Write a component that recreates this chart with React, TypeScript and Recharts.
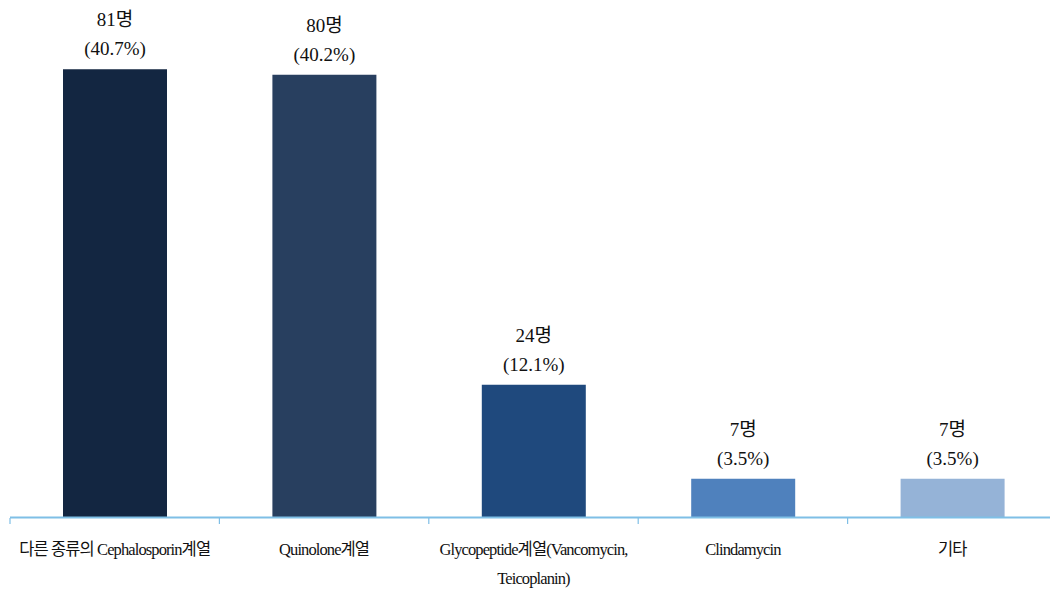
import React from "react";
import { BarChart, Bar, XAxis, YAxis, Cell, LabelList } from "recharts";

const categories = [
    "다른 종류의 Cephalosporin계열",
    "Quinolone계열",
    "Glycopeptide계열(Vancomycin,\nTeicoplanin)",
    "Clindamycin",
    "기타",
];
const counts = [81, 80, 24, 7, 7];
const percents = ["40.7%", "40.2%", "12.1%", "3.5%", "3.5%"];
const barColors = ["#132641", "#283f5f", "#1f497d", "#4f81bd", "#95b3d7"];

const AXIS_COLOR = "#7fbfe6";
const SERIF = "'Liberation Serif', 'Noto Sans CJK KR', serif";

const data = categories.map((name, i) => ({
    name,
    count: counts[i],
    pct: percents[i],
}));

function CategoryTick(props: any) {
    const { x, payload, width, visibleTicksCount } = props;
    const band = width && visibleTicksCount ? width / visibleTicksCount : 209.4;
    const lines = String(payload.value).split("\n");
    const isLast = payload.index === categories.length - 1;
    return (
        <g>
            <line x1={x - band / 2} x2={x - band / 2} y1={518} y2={524} stroke={AXIS_COLOR} strokeWidth={1.2} />
            {isLast && (
                <line x1={x + band / 2} x2={x + band / 2} y1={518} y2={524} stroke={AXIS_COLOR} strokeWidth={1.2} />
            )}
            <text
                x={x}
                y={555}
                textAnchor="middle"
                fontSize={16.5}
                fontFamily={SERIF}
                fill="#111"
                letterSpacing={-0.9}
            >
                {lines.map((line, i) => (
                    <tspan key={i} x={x} dy={i === 0 ? 0 : 29}>
                        {line}
                    </tspan>
                ))}
            </text>
        </g>
    );
}

function ValueLabel(props: any) {
    const { x, y, width, index } = props;
    const cx = x + width / 2;
    return (
        <text textAnchor="middle" fontSize={19} fontFamily={SERIF} fill="#111">
            <tspan x={cx} y={y - 43}>
                {counts[index]}명
            </tspan>
            <tspan x={cx} y={y - 14}>
                ({percents[index]})
            </tspan>
        </text>
    );
}

export default function App() {
    return (
        <div
            style={{
                position: "fixed",
                left: 0,
                top: 0,
                width: 1050,
                height: 591,
                overflow: "hidden",
                background: "#fff",
            }}
        >
            <BarChart
                width={1057}
                height={591}
                data={data}
                margin={{ top: 19.5, right: 0, left: 10, bottom: 13.5 }}
            >
                <XAxis
                    dataKey="name"
                    interval={0}
                    height={60}
                    axisLine={{ stroke: AXIS_COLOR, strokeWidth: 2 }}
                    tickLine={false}
                    tick={<CategoryTick />}
                />
                <YAxis hide domain={[0, 90]} />
                <Bar dataKey="count" barSize={104} isAnimationActive={false}>
                    {data.map((d, i) => (
                        <Cell key={d.name} fill={barColors[i]} />
                    ))}
                    <LabelList dataKey="count" content={<ValueLabel />} />
                </Bar>
            </BarChart>
        </div>
    );
}
